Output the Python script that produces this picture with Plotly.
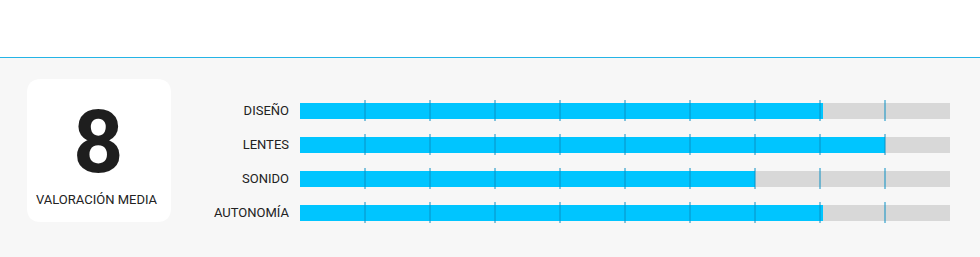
import plotly.graph_objects as go

categories = ["DISEÑO", "LENTES", "SONIDO", "AUTONOMÍA"]
scores = [8.05, 9.0, 7.0, 8.05]
max_score = 10
tick_steps = [1, 2, 3, 4, 5, 6, 7, 8, 9]
average_label = "8"
average_caption = "VALORACIÓN MEDIA"

W, H = 980, 257
FONT = "Roboto, Liberation Sans, sans-serif"

fig = go.Figure()

# background track
fig.add_trace(go.Bar(
    y=categories, x=[max_score] * len(categories), orientation="h",
    marker=dict(color="#d8d8d8", line=dict(width=0)),
    width=0.45, hoverinfo="skip", showlegend=False,
))
# score bars
fig.add_trace(go.Bar(
    y=categories, x=scores, orientation="h",
    marker=dict(color="#00c5ff", line=dict(width=0)),
    width=0.45, showlegend=False,
))
# division ticks
tx, ty = [], []
for c in categories:
    for t in tick_steps:
        tx.append(t)
        ty.append(c)
fig.add_trace(go.Scatter(
    x=tx, y=ty, mode="markers",
    marker=dict(symbol="line-ns", size=15, line=dict(color="#0a90c4", width=1)),
    hoverinfo="skip", showlegend=False,
))
# invisible pixel frame for decoration
fig.add_trace(go.Scatter(x=[0, W], y=[0, H], xaxis="x2", yaxis="y2",
                         mode="markers", marker=dict(opacity=0), hoverinfo="skip",
                         showlegend=False))

top = 93.5
bottom = top + 34 * 4
fig.update_layout(
    width=W, height=H, margin=dict(l=0, r=0, t=0, b=0),
    paper_bgcolor="#f7f7f7", plot_bgcolor="rgba(0,0,0,0)",
    barmode="overlay", bargap=0,
    xaxis=dict(domain=[300 / W, 950 / W], range=[0, max_score], visible=False,
               fixedrange=True),
    yaxis=dict(domain=[1 - bottom / H, 1 - top / H], type="category",
               categoryorder="array", categoryarray=categories,
               autorange="reversed", showgrid=False, zeroline=False,
               showline=False, ticks="", ticklabelstandoff=10,
               tickfont=dict(family=FONT, size=13, color="#222222")),
    xaxis2=dict(domain=[0, 1], range=[0, W], visible=False, anchor="y2"),
    yaxis2=dict(domain=[0, 1], range=[H, 0], visible=False, anchor="x2"),
    font=dict(family=FONT),
)

r = 14
x0, x1, y0, y1 = 27, 171, 79, 222
box = (f"M{x0 + r},{y0} L{x1 - r},{y0} Q{x1},{y0} {x1},{y0 + r} "
       f"L{x1},{y1 - r} Q{x1},{y1} {x1 - r},{y1} L{x0 + r},{y1} "
       f"Q{x0},{y1} {x0},{y1 - r} L{x0},{y0 + r} Q{x0},{y0} {x0 + r},{y0} Z")
fig.update_layout(shapes=[
    dict(type="rect", xref="x2", yref="y2", x0=0, x1=W, y0=0, y1=57,
         fillcolor="#ffffff", line=dict(width=0), layer="below"),
    dict(type="line", xref="x2", yref="y2", x0=0, x1=W, y0=57.5, y1=57.5,
         line=dict(color="#25b4e6", width=1), layer="below"),
    dict(type="path", xref="x2", yref="y2", path=box,
         fillcolor="#ffffff", line=dict(width=0), layer="below"),
])
fig.add_annotation(xref="x2", yref="y2", x=98, y=141, text=f"<b>{average_label}</b>",
                   showarrow=False, font=dict(family=FONT, size=88, color="#1e1e1e"))
fig.add_annotation(xref="x2", yref="y2", x=97, y=199, text=average_caption,
                   showarrow=False, font=dict(family=FONT, size=13, color="#222222"))

fig.write_html("out.html", config={"displayModeBar": False})
